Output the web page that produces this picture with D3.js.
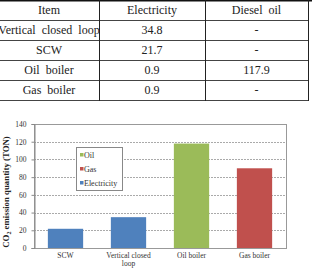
<!DOCTYPE html>
<html>
<head>
<meta charset="utf-8">
<script src="https://cdn.jsdelivr.net/npm/d3@7/dist/d3.min.js"></script>
<style>
  body { margin: 0; background: #fff; }
  svg { display: block; }
  svg text { font-family: "Times New Roman", "Liberation Serif", "DejaVu Serif", serif; }
</style>
</head>
<body>
<div id="main"></div>
<script>

// table data
const tableHead = ['Item', 'Electricity', 'Diesel  oil'];
const tableItems = ['Vertical  closed  loop', 'SCW', 'Oil  boiler', 'Gas  boiler'];
const tableElec = ['34.8', '21.7', '0.9', '0.9'];
const tableDiesel = ['-', '-', '117.9', '-'];

// chart data
const categories = ['SCW', 'Vertical closed|loop', 'Oil boiler', 'Gas boiler'];
const emissions = [21.7, 34.8, 117.9, 90];
const sources = ['Electricity', 'Electricity', 'Oil', 'Gas'];
const legendItems = ['Oil', 'Gas', 'Electricity'];
const yTicks = [0, 20, 40, 60, 80, 100, 120, 140];

const w = 312;
const h = 268;

const svg = d3.select('#main').append('svg').attr('width', w).attr('height', h);

// table

const colEdges = [-1, 99, 205, 308, 330];
const rowY = d3.scaleBand().domain(d3.range(5)).range([0, 100]);
const tableCols = [
    [tableHead[0]].concat(tableItems),
    [tableHead[1]].concat(tableElec),
    [tableHead[2]].concat(tableDiesel)
];

const table = svg.append('g').attr('class', 'table');

table.selectAll('line.row')
    .data(d3.range(1, 6))
    .enter()
    .append('line')
    .attr('x1', 0)
    .attr('x2', colEdges[3])
    .attr('y1', d => rowY(d - 1) + rowY.bandwidth() + 0.5)
    .attr('y2', d => rowY(d - 1) + rowY.bandwidth() + 0.5)
    .attr('stroke', '#444')
    .attr('stroke-width', 1);

table.append('line')
    .attr('x1', 0).attr('x2', w)
    .attr('y1', 0.75).attr('y2', 0.75)
    .attr('stroke', '#111')
    .attr('stroke-width', 1.5);

table.selectAll('line.col')
    .data([1, 2, 3])
    .enter()
    .append('line')
    .attr('x1', d => colEdges[d] + 0.5)
    .attr('x2', d => colEdges[d] + 0.5)
    .attr('y1', 0)
    .attr('y2', 101)
    .attr('stroke', '#222');

tableCols.forEach((col, ci) => {
    table.selectAll('text.c' + ci)
        .data(col)
        .enter()
        .append('text')
        .attr('x', (colEdges[ci] + colEdges[ci + 1]) / 2)
        .attr('y', (d, i) => rowY(i) + rowY.bandwidth() / 2 + 4)
        .attr('text-anchor', 'middle')
        .attr('font-size', 12)
        .attr('fill', '#222')
        .style('white-space', 'pre')
        .text(d => d);
});

// chart

const margin = { left: 34, right: 26, top: 124, bottom: 20 };
const plotW = w - margin.left - margin.right;
const plotB = h - margin.bottom;

const x = d3.scaleBand().domain(categories).range([margin.left, margin.left + plotW]).paddingInner(0.44).paddingOuter(0.22);
const y = d3.scaleLinear().domain([0, 140]).range([plotB, margin.top]);

const color = d3.scaleOrdinal()
    .domain(['Oil', 'Gas', 'Electricity'])
    .range(['#9bbb59', '#c0504d', '#4f81bd']);

const chart = svg.append('g').attr('class', 'chart');

// grid
chart.selectAll('line.grid')
    .data(yTicks.slice(1, -1))
    .enter()
    .append('line')
    .attr('x1', margin.left)
    .attr('x2', margin.left + plotW)
    .attr('y1', d => Math.round(y(d)) + 0.5)
    .attr('y2', d => Math.round(y(d)) + 0.5)
    .attr('stroke', '#aaa')
    .attr('stroke-dasharray', '2,1');

chart.append('rect')
    .attr('x', margin.left + 0.5)
    .attr('y', margin.top + 0.5)
    .attr('width', plotW)
    .attr('height', plotB - margin.top)
    .attr('fill', 'none')
    .attr('stroke', '#999');

// bars
chart.selectAll('rect.bar')
    .data(categories)
    .enter()
    .append('rect')
    .attr('class', 'bar')
    .attr('x', d => x(d))
    .attr('width', x.bandwidth())
    .attr('y', (d, i) => y(emissions[i]))
    .attr('height', (d, i) => y(0) - y(emissions[i]))
    .attr('fill', (d, i) => color(sources[i]));

// y axis
const yAxis = d3.axisLeft(y).tickValues(yTicks).tickSize(3).tickPadding(5);
const yg = chart.append('g')
    .attr('transform', `translate(${margin.left + 0.5},0)`)
    .call(yAxis);
yg.select('.domain').attr('stroke', '#888');
yg.selectAll('.tick line').attr('stroke', '#888');
yg.selectAll('.tick text')
    .attr('font-size', 7.5)
    .attr('fill', '#333');

// x labels
const xl = chart.selectAll('text.xlab')
    .data(categories)
    .enter()
    .append('text')
    .attr('x', d => x(d) + x.bandwidth() / 2)
    .attr('y', plotB + 10)
    .attr('text-anchor', 'middle')
    .attr('font-size', 7.5)
    .attr('fill', '#333');

xl.selectAll('tspan')
    .data(d => d.split('|'))
    .enter()
    .append('tspan')
    .attr('x', function () { return d3.select(this.parentNode).attr('x'); })
    .attr('dy', (d, i) => i === 0 ? 0 : 8)
    .text(d => d);

// y title
const yt = chart.append('text')
    .attr('transform', 'translate(9,192) rotate(-90)')
    .attr('text-anchor', 'middle')
    .attr('font-size', 8.8)
    .attr('font-weight', 'bold')
    .attr('fill', '#222');
yt.append('tspan').text('CO');
yt.append('tspan').attr('font-size', 6).attr('dy', 2).text('2');
yt.append('tspan').attr('dy', -2).text(' emission quantity (TON)');

// legend
const legend = chart.append('g').attr('id', 'legend');
legend.append('rect')
    .attr('x', 76.5).attr('y', 147.5)
    .attr('width', 46).attr('height', 43)
    .attr('fill', '#fff')
    .attr('stroke', '#888');

const ly = d3.scalePoint().domain(legendItems).range([155, 183]);

legend.selectAll('rect.key')
    .data(legendItems)
    .enter()
    .append('rect')
    .attr('x', 80)
    .attr('y', d => ly(d) - 2)
    .attr('width', 3.5)
    .attr('height', 3.5)
    .attr('fill', d => color(d));

legend.selectAll('text.key')
    .data(legendItems)
    .enter()
    .append('text')
    .attr('x', 84)
    .attr('y', d => ly(d) + 2.5)
    .attr('font-size', 8)
    .attr('fill', '#333')
    .text(d => d);

</script>
</body>
</html>
